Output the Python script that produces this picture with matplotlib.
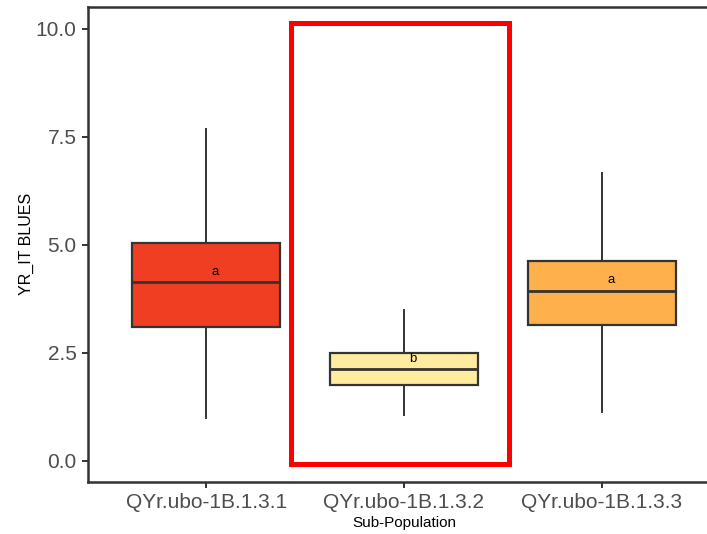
import matplotlib
matplotlib.use("Agg")
import matplotlib.pyplot as plt
from matplotlib.patches import Rectangle

plt.rcParams['font.family'] = ['Liberation Sans', 'DejaVu Sans']

# Sub-populations and their box statistics
groups = ["QYr.ubo-1B.1.3.1", "QYr.ubo-1B.1.3.2", "QYr.ubo-1B.1.3.3"]
whisker_low = [1.00, 1.05, 1.12]
q1 = [3.10, 1.76, 3.15]
median = [4.14, 2.12, 3.93]
q3 = [5.03, 2.50, 4.63]
whisker_high = [7.69, 3.50, 6.65]
colors = ["#F03E23", "#FFEC9E", "#FDB04B"]

# Significance letters
letters = ["a", "b", "a"]
letter_y = [4.37, 2.35, 4.18]

yticks = [0.0, 2.5, 5.0, 7.5, 10.0]

fig = plt.figure(figsize=(7.07, 5.34), dpi=100)
ax = fig.add_axes([87.5 / 707, (534 - 481.7) / 534, (720.5 - 87.5) / 707, (481.7 - 6.7) / 534])

stats = []
for i, g in enumerate(groups):
    stats.append({"label": g, "whislo": whisker_low[i], "q1": q1[i], "med": median[i],
                  "q3": q3[i], "whishi": whisker_high[i], "fliers": []})

edge = "#333333"
bp = ax.bxp(stats, positions=[1, 2, 3], widths=0.75, patch_artist=True, showcaps=False,
            boxprops=dict(linewidth=1.6, edgecolor=edge),
            whiskerprops=dict(linewidth=1.4, color=edge),
            medianprops=dict(linewidth=2.0, color=edge))
for box, c in zip(bp["boxes"], colors):
    box.set_facecolor(c)

for i, (lab, y) in enumerate(zip(letters, letter_y)):
    ax.text(i + 1 + 0.045, y, lab, ha="center", va="center", fontsize=9.5, color="black")

# highlight around the second sub-population
ax.add_patch(Rectangle((1.43, -0.083), 1.10, 10.21, fill=False, edgecolor="#FF0000",
                       linewidth=3.6, zorder=5, clip_on=False))

ax.set_xlim(0.4, 3.6)
ax.set_ylim(-0.486, 10.51)
ax.set_yticks(yticks)
ax.set_yticklabels([f"{v:.1f}" for v in yticks])
ax.set_xticks([1, 2, 3])
ax.set_xticklabels(groups)

for s in ["left", "bottom", "top", "right"]:
    ax.spines[s].set_linewidth(1.8)
    ax.spines[s].set_color(edge)
ax.tick_params(axis="both", colors=edge, length=4, width=1.4, labelsize=15,
               labelcolor="#4D4D4D", pad=4)

ax.set_xlabel("Sub-Population", fontsize=11, color="black", labelpad=3)
ax.set_ylabel("YR_IT BLUES", fontsize=11.5, color="black", labelpad=1)

fig.savefig("out.png", dpi=100)
